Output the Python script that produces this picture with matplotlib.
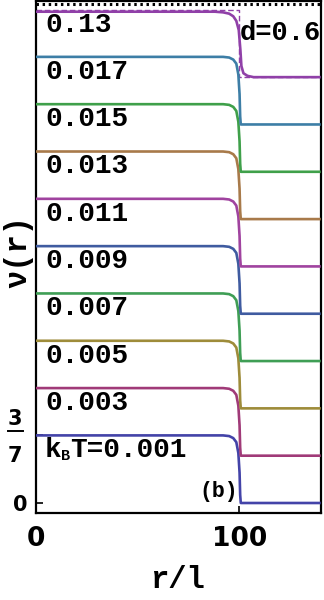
import matplotlib
matplotlib.use('Agg')
import matplotlib.pyplot as plt
from matplotlib.lines import Line2D

# temperatures (bottom to top) and vertical offsets of each curve
temps = ['0.001', '0.003', '0.005', '0.007', '0.009', '0.011', '0.013', '0.015', '0.017', '0.13']
offsets = [0.0, 0.3, 0.6, 0.9, 1.2, 1.5, 1.8, 2.1, 2.4, 2.7]
colors = ['#4343a8', '#a03a78', '#9e8c3a', '#3f9e55', '#3f5ba0',
          '#a0439f', '#a87a4a', '#3fa04a', '#3d7ea6', '#9040a8']

step = 3 / 7          # height of the step nu(r)
step_hot = 0.415      # the 0.13 curve drops slightly less

# shape of the drop (1 = inside, 0 = outside)
r_cold = [0, 92, 95, 97, 98.5, 99.5, 100.1, 100.4, 100.7, 140]
f_cold = [1, 1, 0.99, 0.96, 0.9, 0.74, 0.45, 0.12, 0, 0]
r_hot = [0, 88, 92, 95, 97, 98.5, 99.7, 100.5, 101, 102, 104, 107, 140]
f_hot = [1, 1, 0.99, 0.97, 0.93, 0.86, 0.72, 0.42, 0.17, 0.06, 0.02, 0, 0]

# T = 0 reference step (dashed) for the top curve
r_ref = [0, 100, 100, 140]
f_ref = [1, 1, 0, 0]
top_dots = 3.164

mono = 'Liberation Mono'

fig = plt.figure(figsize=(3.24, 6.0), dpi=100)
ax = fig.add_axes([36 / 324, 1 - 513.3 / 600, 284.7 / 324, 512.8 / 600])

for i in range(len(temps)):
    off = offsets[i]
    if temps[i] == '0.13':
        ax.plot(r_ref, [off + step * f for f in f_ref], color=colors[i],
                lw=1.0, ls=(0, (4, 2)), zorder=2)
        ax.plot(r_hot, [off + step_hot * f for f in f_hot], color=colors[i],
                lw=1.9, zorder=3, solid_capstyle='butt')
    else:
        ax.plot(r_cold, [off + step * f for f in f_cold], color=colors[i],
                lw=1.9, zorder=3, solid_capstyle='butt')

# curve labels
for i in range(len(temps)):
    y = offsets[i] + step - 0.095
    if i == 0:
        ax.annotate('k', (4.4, y), xytext=(0, 0), textcoords='offset points',
                    fontfamily=mono, fontweight='bold', fontsize=20,
                    ha='left', va='center')
        ax.annotate('B', (4.4, y), xytext=(11.2, -4), textcoords='offset points',
                    fontfamily=mono, fontweight='bold', fontsize=11,
                    ha='left', va='center')
        ax.annotate('T=' + temps[i], (4.4, y), xytext=(18.3, 0),
                    textcoords='offset points', fontfamily=mono,
                    fontweight='bold', fontsize=20, ha='left', va='center')
    else:
        ax.text(4.4, y, temps[i], fontfamily=mono, fontweight='bold',
                fontsize=20, ha='left', va='center')

ax.text(100.1, 2.98, 'd=0.6', fontfamily=mono, fontweight='bold', fontsize=19.5,
        ha='left', va='center')
ax.text(99.2, 0.07, '(b)', fontfamily=mono, fontweight='bold', fontsize=15.5,
        ha='right', va='center')

ax.axhline(top_dots, color='k', lw=2.2, ls=(0, (0.8, 1.2)), zorder=4)

ax.set_xlim(0, 140)
ax.set_ylim(-0.0653, 3.186)

ax.set_xticks([0, 100])
ax.set_xticklabels(['0', '100'], fontsize=19, fontweight='bold')
ax.set_yticks([0, step, 1.2 + step])
ax.set_yticklabels(['0', '', ''], fontsize=15, fontweight='bold')
ax.tick_params(axis='x', direction='in', length=5, width=1.2, pad=9)
ax.tick_params(axis='y', direction='in', length=5, width=1.2, pad=6)
for s in ax.spines.values():
    s.set_linewidth(1.6)

# the 3/7 tick label as a fraction
fig.text(15 / 324, 1 - 419 / 600, '3', fontsize=15, fontweight='bold',
         ha='center', va='center')
fig.text(15 / 324, 1 - 456 / 600, '7', fontsize=15, fontweight='bold',
         ha='center', va='center')
fig.add_artist(Line2D([8 / 324, 23 / 324], [1 - 431 / 600] * 2, color='k', lw=1.4))

fig.text(177 / 324, 1 - 580 / 600, 'r/l', fontfamily=mono, fontweight='bold',
         fontsize=22, ha='center', va='center')
fig.text(18 / 324, 1 - 252 / 600, 'ν(r)', fontfamily=mono, fontweight='bold',
         fontsize=22, ha='center', va='center', rotation=90)

fig.savefig('out.png', dpi=100)
